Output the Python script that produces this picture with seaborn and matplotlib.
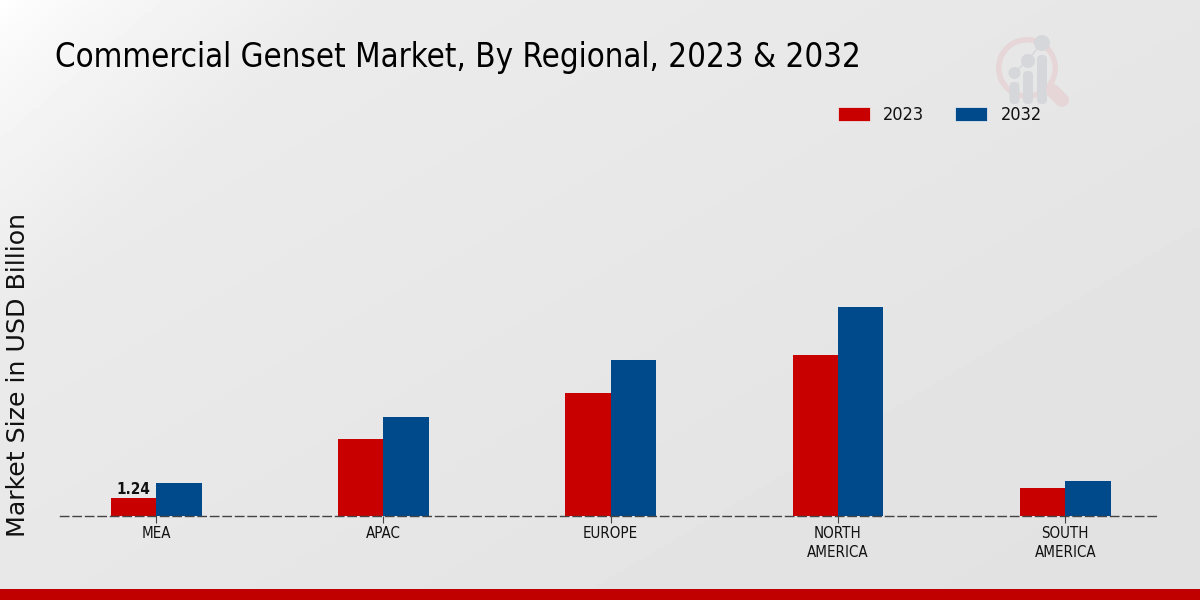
"""Commercial genset market by region, grouped bars on a pale gradient."""
import matplotlib
matplotlib.use("Agg")
import matplotlib.pyplot as plt
import numpy as np
import pandas as pd
import seaborn as sns
from matplotlib.patches import Circle, FancyBboxPatch, Rectangle, Wedge

regions = ["MEA", "APAC", "EUROPE", "NORTH\nAMERICA", "SOUTH\nAMERICA"]
years = ["2023", "2032"]
values_2023 = [1.24, 5.3, 8.47, 11.1, 1.93]
values_2032 = [2.27, 6.8, 10.75, 14.4, 2.41]

RED = "#c80000"
BLUE = "#004a8c"
W, H = 1200, 600

df = pd.DataFrame({
    "region": regions * 2,
    "year": [years[0]] * 5 + [years[1]] * 5,
    "value": values_2023 + values_2032,
})

sns.set_theme(style="white")
plt.rcParams["font.family"] = ["DejaVu Sans"]

fig = plt.figure(figsize=(12, 6), dpi=100)

# ── Background gradient + bottom strip ───────────────────────────────────────
bg = fig.add_axes([0, 0, 1, 1], zorder=0)
bg.set_axis_off()
yy, xx = np.mgrid[0:1:150j, 0:1:300j]
t = np.clip((xx + yy * 0.55) / 0.3, 0, 1) ** 0.7
shade = 1.0 - 0.07 * t - 0.045 * np.clip(xx * 0.6 + yy * 0.5, 0, 1)
bg.imshow(shade, cmap="gray", vmin=0, vmax=1, extent=[0, W, H, 0], aspect="auto")
bg.set_xlim(0, W)
bg.set_ylim(H, 0)
bg.add_patch(Rectangle((0, 589), W, 11, color="#c00000", lw=0))

# ── Watermark logo ───────────────────────────────────────────────────────────
bg.plot([1053, 1062], [91, 100], color="#e6d6d8", lw=10, solid_capstyle="round")
bg.add_patch(Wedge((1027, 68), 31, 0, 360, width=5.5, color="#e6d6d8", lw=0))
for cx, top, cy, r in [(1014.5, 82, 73, 6), (1028, 71, 61, 7), (1042, 55, 43, 8)]:
    bg.add_patch(FancyBboxPatch((cx - 5, top), 10, 104 - top,
                                boxstyle="round,pad=0,rounding_size=4.5",
                                color="#d6d7da", lw=0))
    bg.add_patch(Circle((cx, cy), r, color="#d6d7da", lw=0))
bg.plot([1014, 1027, 1042], [73, 61, 43], color="#d6d7da", lw=1)

# ── Bars ─────────────────────────────────────────────────────────────────────
ax = fig.add_axes([60 / W, 1 - 516 / H, 1100 / W, 416 / H], zorder=1)
ax.patch.set_alpha(0)
sns.barplot(data=df, x="region", y="value", hue="year", hue_order=years,
            palette=[RED, BLUE], width=0.4, gap=0, saturation=1,
            linewidth=0, ax=ax, legend=False)
ax.set_xlim(-0.423, 4.417)
ax.set_ylim(0, 416 / 14.5)
ax.set_xlabel("")
ax.set_ylabel("")
ax.set_yticks([])
for side in ["top", "left", "right"]:
    ax.spines[side].set_visible(False)
ax.spines["bottom"].set_linestyle((0, (6, 3)))
ax.spines["bottom"].set_color("#444444")
ax.spines["bottom"].set_linewidth(1)
ax.tick_params(axis="x", length=5, width=0.8, color="#444444", pad=2.5, bottom=True)
for lab in ax.get_xticklabels():
    lab.set_fontsize(10.8)
    lab.set_fontstretch("condensed")
    lab.set_color("#111111")
    lab.set_linespacing(1.3)

ax.bar_label(ax.containers[0], labels=["1.24", "", "", "", ""], padding=1,
             fontsize=11, fontweight="bold", fontstretch="condensed", color="#111111")

# ── Text ─────────────────────────────────────────────────────────────────────
fig.text(55 / W, 1 - 57 / H, "Commercial Genset Market, By Regional, 2023 & 2032",
         fontsize=23.7, fontstretch="condensed", color="black", va="center", ha="left")
fig.text(18.5 / W, 1 - 375 / H, "Market Size in USD Billion", rotation=90,
         fontsize=18.2, color="#111111", va="center", ha="center")

# Legend
handles = [Rectangle((0, 0), 1, 1, facecolor=c, edgecolor="#f4f4f4", lw=0.5) for c in (RED, BLUE)]
leg = fig.legend(handles, years, loc="center left", bbox_to_anchor=(821.5 / W, 1 - 115 / H),
                 ncol=2, frameon=False, fontsize=13, handlelength=1.77, handleheight=0.8,
                 handletextpad=0.72, columnspacing=1.75)
for txt in leg.get_texts():
    txt.set_fontstretch("condensed")
    txt.set_color("#111111")

fig.savefig("out.png", dpi=100)
plt.close(fig)
